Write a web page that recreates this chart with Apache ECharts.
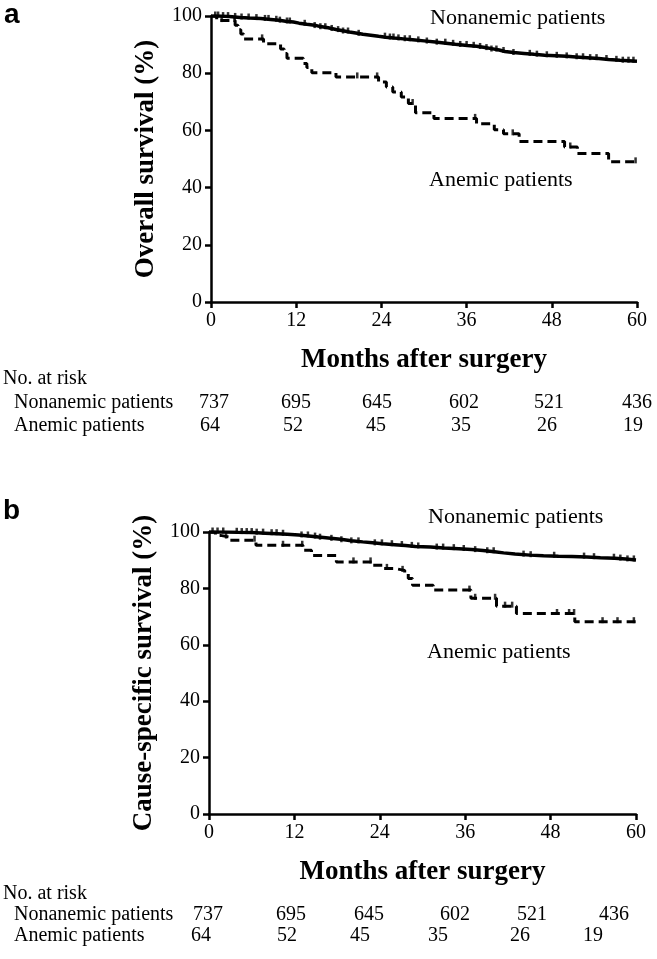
<!DOCTYPE html>
<html><head><meta charset="utf-8">
<script src="https://cdn.jsdelivr.net/npm/echarts/dist/echarts.min.js"></script>
<style>html,body{margin:0;padding:0;background:#fff}#c{width:657px;height:959px}</style>
</head><body><div id="c"></div>
<script>
// ---------- data ----------
const monthTicks = [0, 12, 24, 36, 48, 60];
const osNonanemic = [[0,100],[1.2,99.8],[2.6,99.5],[4.1,99.3],[5.4,99.1],[7.0,98.8],[8.4,98.5],[9.6,98.2],[10.5,97.9],[11.6,97.5],[12.4,97.1],[13.5,96.8],[14.6,96.3],[15.4,95.9],[16.5,95.3],[17.6,94.9],[18.4,94.4],[19.5,94.0],[20.6,93.6],[21.4,93.3],[22.5,92.9],[23.6,92.6],[24.6,92.3],[25.8,92.0],[27.1,91.7],[28.4,91.3],[30.0,90.9],[31.6,90.5],[33.1,90.1],[34.4,89.7],[36.1,89.4],[37.4,89.0],[38.6,88.6],[39.5,88.1],[40.6,87.6],[41.4,87.2],[42.6,86.9],[44.1,86.6],[45.5,86.3],[47.0,86.1],[48.6,85.9],[50.1,85.7],[51.4,85.4],[53.0,85.1],[54.6,84.8],[56.0,84.5],[57.6,84.2],[60,84.2]];
const osAnemic = [[0,100],[0.8,98.4],[3.4,96.8],[3.8,95.2],[4.2,93.7],[4.6,92.0],[7.4,90.3],[9.8,88.5],[10.3,86.9],[10.7,85.2],[13.0,83.4],[13.5,82.0],[14.2,80.2],[17.6,78.7],[23.6,76.9],[24.7,75.2],[25.6,73.4],[26.8,71.7],[27.8,69.4],[28.8,66.2],[31.4,64.2],[37.4,62.3],[39.9,60.2],[41.2,58.8],[43.4,56.1],[49.8,54.2],[51.6,51.9],[56.0,49.0],[60,49.0]];
const csNonanemic = [[0,100],[2.1,99.9],[4.0,99.8],[6.1,99.6],[7.9,99.4],[9.6,99.2],[11.0,98.9],[12.6,98.6],[14.0,98.2],[15.4,97.8],[17.1,97.4],[18.5,96.9],[20.0,96.5],[21.6,96.2],[23.0,95.8],[24.4,95.5],[26.1,95.2],[27.6,94.9],[29.0,94.7],[31.1,94.3],[33.0,94.1],[35.1,93.8],[36.9,93.4],[38.5,93.0],[40.1,92.6],[41.4,92.2],[43.0,91.8],[45.1,91.6],[47.0,91.4],[49.1,91.3],[51.0,91.1],[53.1,90.9],[55.0,90.7],[57.0,90.4],[58.6,90.1],[60,90.1]];
const csAnemic = [[0,100],[0.9,98.8],[1.6,98.2],[2.9,97.1],[6.6,95.3],[13.2,93.5],[14.4,91.7],[17.9,89.4],[22.9,88.2],[24.5,87.1],[26.0,86.4],[27.5,85.3],[28.0,83.5],[28.6,81.1],[31.5,79.4],[36.8,76.5],[40.4,73.7],[43.2,71.1],[51.4,68.2],[60,68.2]];

const osNonCensor = [0.6,1.0,1.7,2.4,3.4,4.3,5.3,6.4,7.6,8.1,9.2,9.7,10.7,11.1,13.2,14.6,15.4,16.1,17.0,17.9,18.6,19.3,20.8,24.5,25.2,25.7,26.4,27.3,28.0,29.2,30.4,31.8,33.0,34.1,35.1,36.0,37.0,37.9,38.8,39.5,40.2,41.2,42.6,44.9,45.9,47.3,48.7,50.1,51.5,52.4,53.4,54.3,55.7,57.1,58.0,58.8,59.5];
const osAnemicCensor = [1.5,3.3,7.2,20.6,23.4,28.4,37.2,42.5,50.6,59.8];
const csNonCensor = [0.5,1.2,2.0,3.9,4.6,5.3,6.0,6.7,7.6,8.8,9.5,10.4,13.0,13.9,14.9,15.6,17.2,18.6,20.0,21.0,23.3,24.3,25.7,27.1,28.5,29.4,32.0,32.9,34.4,35.8,37.4,39.1,40.0,44.2,45.2,48.5,52.7,54.1,56.9,57.8,58.8,59.7];
const csAnemicCensor = [2.4,6.4,10.4,13.1,20.3,22.7,25.0,27.2,36.6,37.4,40.2,41.6,42.6,48.9,50.6,51.3,55.3,57.4,59.7];

const riskGroups = ['Nonanemic patients', 'Anemic patients'];
const riskNonanemic = [737, 695, 645, 602, 521, 436];
const riskAnemic = [64, 52, 45, 35, 26, 19];

// ---------- layout (not data) ----------
const SERIF = '"Liberation Serif","Times New Roman",Times,serif';
const SANS = '"Liberation Sans",Arial,Helvetica,sans-serif';
const colA = {non: [214,296,377,464,549,637], ane: [210,293,376,461,547,633]};
const colB = {non: [208,291,369,455,532,614], ane: [201,287,360,438,520,593]};

function stepAt(curve, t) {
  let v = curve[0][1];
  for (const p of curve) { if (p[0] <= t) v = p[1]; else break; }
  return v;
}
function censorPts(curve, times) { return times.map(t => [t, stepAt(curve, t)]); }

const axisLine = {lineStyle: {color: '#000', width: 2.5}};
const axisTick = {length: 6, lineStyle: {color: '#000', width: 2.5}};
const axisLabel = {color: '#000', fontFamily: SERIF, fontSize: 20, margin: 9};
const nameStyle = {color: '#000', fontFamily: SERIF, fontSize: 27, fontWeight: 'bold'};

function xAx(idx) {
  return {gridIndex: idx, type: 'value', min: 0, max: 60, interval: 12,
    axisLine, axisTick, axisLabel, splitLine: {show: false},
    name: 'Months after surgery', nameLocation: 'middle', nameGap: 45, nameTextStyle: nameStyle};
}
function yAx(idx, name) {
  return {gridIndex: idx, type: 'value', min: 0, max: 100, interval: 20,
    axisLine, axisTick, axisLabel, splitLine: {show: false},
    name: name, nameLocation: 'middle', nameGap: 51, nameTextStyle: nameStyle};
}
function lineSeries(idx, data, dashed) {
  return {type: 'line', xAxisIndex: idx, yAxisIndex: idx, data, step: 'end',
    showSymbol: false, silent: true, animation: false,
    lineStyle: {color: '#000', width: dashed ? 3 : 3.5, type: dashed ? [9, 5] : 'solid'}};
}
function censorSeries(idx, pts, h) {
  return {type: 'scatter', xAxisIndex: idx, yAxisIndex: idx, data: pts, symbol: 'rect',
    symbolSize: [2.5, h], symbolOffset: [0, -h / 2 + 1.5], silent: true, animation: false,
    itemStyle: {color: '#000'}};
}
function txt(x, y, text, font, align) {
  return {type: 'text', x, y, silent: true,
    style: {text: String(text), font, fill: '#000', align: align || 'left', verticalAlign: 'middle',
      textAlign: align || 'left', textVerticalAlign: 'middle'}};
}
function table(yHead, yNon, yAne, cols) {
  const f = '20px ' + SERIF;
  const out = [txt(3, yHead, 'No. at risk', f), txt(14, yNon, riskGroups[0], f), txt(14, yAne, riskGroups[1], f)];
  riskNonanemic.forEach((v, i) => out.push(txt(cols.non[i], yNon, v, f, 'center')));
  riskAnemic.forEach((v, i) => out.push(txt(cols.ane[i], yAne, v, f, 'center')));
  return out;
}

const annFont = '22px ' + SERIF;
const graphic = [
  txt(4, 15, 'a', 'bold 28px ' + SANS),
  txt(3, 511, 'b', 'bold 28px ' + SANS),
  txt(430, 18, 'Nonanemic patients', annFont),
  txt(429, 180, 'Anemic patients', annFont),
  txt(428, 517, 'Nonanemic patients', annFont),
  txt(427, 652, 'Anemic patients', annFont),
  ...table(379, 403, 426, colA),
  ...table(894, 915, 936, colB)
];

const chart = echarts.init(document.getElementById('c'), null, {renderer: 'canvas'});
chart.setOption({
  animation: false,
  backgroundColor: '#fff',
  grid: [
    {left: 211, top: 16, width: 426, height: 286},
    {left: 209, top: 532, width: 427, height: 282}
  ],
  xAxis: [xAx(0), xAx(1)],
  yAxis: [yAx(0, 'Overall survival (%)'), yAx(1, 'Cause-specific survival (%)')],
  series: [
    lineSeries(0, osNonanemic, false),
    lineSeries(0, osAnemic, true),
    censorSeries(0, censorPts(osNonanemic, osNonCensor), 6),
    censorSeries(0, censorPts(osAnemic, osAnemicCensor), 6),
    lineSeries(1, csNonanemic, false),
    lineSeries(1, csAnemic, true),
    censorSeries(1, censorPts(csNonanemic, csNonCensor), 6),
    censorSeries(1, censorPts(csAnemic, csAnemicCensor), 6)
  ],
  graphic
});
</script></body></html>
